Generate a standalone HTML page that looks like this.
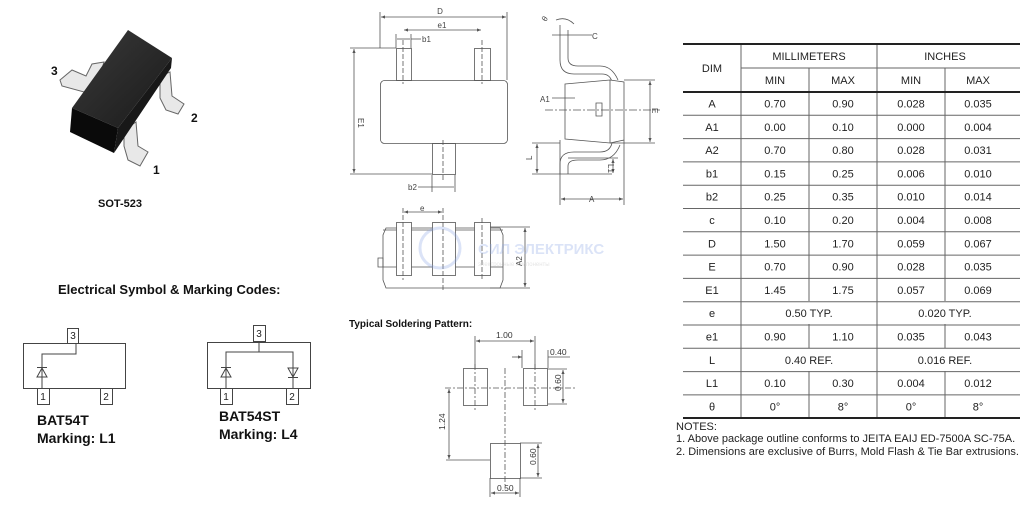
<!DOCTYPE html>
<html><head><meta charset="utf-8"><style>
html,body{margin:0;padding:0;background:#fff;}
svg{display:block;font-family:"Liberation Sans",Arial,sans-serif;}
</style></head><body>
<svg width="1024" height="506" viewBox="0 0 1024 506" xmlns="http://www.w3.org/2000/svg">
<defs>
<linearGradient id="bd" x1="0" y1="0" x2="1" y2="1"><stop offset="0" stop-color="#3a3a3a"/><stop offset="1" stop-color="#1a1a1a"/></linearGradient>
<marker id="ar" markerWidth="6" markerHeight="6" refX="5" refY="3" orient="auto"><path d="M0,1 L5,3 L0,5z" fill="#555"/></marker>
<marker id="al" markerWidth="6" markerHeight="6" refX="1" refY="3" orient="auto"><path d="M6,1 L1,3 L6,5z" fill="#555"/></marker>
</defs>
<!-- 3D package leads -->
<g stroke="#666" stroke-width="1" fill="#e8e8e8">
<path d="M60,80 L72,70 L86,76 L92,64 L104,62 L98,82 L84,92 L62,86z"/>
<path d="M160,76 L170,72 L172,96 L184,104 L178,114 L166,110 L160,98z"/>
<path d="M124,130 L136,122 L138,146 L148,152 L140,166 L128,160 L124,146z"/>
</g>
<path d="M128,30 L172,58 L118,128 L72,108z" fill="url(#bd)"/>
<path d="M172,58 L171,68 L114,153 L118,128z" fill="#181818"/>
<path d="M72,108 L118,128 L114,153 L70,132z" fill="#0a0a0a"/>
<g font-weight="bold" font-size="12" fill="#111">
<text x="51" y="75">3</text><text x="191" y="122">2</text><text x="153" y="174">1</text>
<text x="98" y="207" font-size="11">SOT-523</text>
</g>
<!-- Electrical symbols -->
<text x="58" y="294" font-weight="bold" font-size="13" fill="#111">Electrical Symbol &amp; Marking Codes:</text>
<g stroke="#444" stroke-width="1" fill="#fff">
<rect x="23.5" y="343.5" width="102" height="45"/>
<rect x="67.5" y="328.5" width="11" height="15"/>
<rect x="37.5" y="388.5" width="12" height="16"/>
<rect x="100.5" y="388.5" width="12" height="16"/>
<polyline points="76,343 76,354 42,354 42,388" fill="none"/>
<path d="M37,377 L47,377 L42,368z M37,367.5 L47,367.5" fill="none"/>
<rect x="207.5" y="342.5" width="103" height="46"/>
<rect x="253.5" y="325.5" width="12" height="16"/>
<rect x="220.5" y="388.5" width="12" height="16"/>
<rect x="286.5" y="388.5" width="12" height="16"/>
<polyline points="259,342 259,352 226,352 226,388" fill="none"/>
<polyline points="259,352 293,352 293,388" fill="none"/>
<path d="M221,377 L231,377 L226,368z M221,367.5 L231,367.5" fill="none"/>
<path d="M288,368 L298,368 L293,377z M288,377.5 L298,377.5" fill="none"/>
</g>
<g font-size="10" fill="#222" text-anchor="middle">
<text x="73" y="339">3</text><text x="43" y="400">1</text><text x="106" y="400">2</text>
<text x="259" y="337">3</text><text x="226" y="400">1</text><text x="292" y="400">2</text>
</g>
<g font-weight="bold" font-size="14" fill="#111">
<text x="37" y="425">BAT54T</text><text x="37" y="443">Marking: L1</text>
<text x="219" y="421">BAT54ST</text><text x="219" y="439">Marking: L4</text>
</g>
<!-- Top view drawing -->
<g stroke="#555" stroke-width="0.8" fill="none">
<rect x="380.5" y="80.5" width="127" height="63" rx="4" fill="#fff"/>
<rect x="396.5" y="48.5" width="15" height="32"/>
<rect x="474.5" y="48.5" width="16" height="32"/>
<rect x="432.5" y="143.5" width="23" height="31"/>
<path d="M403,40 V84 M482,40 V84 M443,140 V180" stroke-dasharray="5,2"/>
<path d="M380,12 V48 M507,12 V80 M396,34 V48 M411,34 V48 M432,175 V192 M455,175 V192"/>
<path d="M350,48 H396 M350,174 H432"/>
<line x1="381" y1="17" x2="506" y2="17" marker-start="url(#al)" marker-end="url(#ar)"/>
<line x1="404" y1="30" x2="481" y2="30" marker-start="url(#al)" marker-end="url(#ar)"/>
<line x1="397" y1="39" x2="410" y2="39"/><line x1="411" y1="39" x2="421" y2="39"/>
<line x1="354" y1="49" x2="354" y2="173" marker-start="url(#al)" marker-end="url(#ar)"/>
<line x1="418" y1="187" x2="454" y2="187"/>
</g>
<g font-size="8" fill="#444">
<text x="440" y="14" text-anchor="middle">D</text><text x="442" y="28" text-anchor="middle">e1</text>
<text x="422" y="42">b1</text><text x="408" y="190">b2</text>
<text x="358" y="118" transform="rotate(90 358 118)">E1</text>
</g>
<!-- Side view -->
<g stroke="#555" stroke-width="0.8" fill="none">
<path d="M560,48 V60 Q560,74 574,74 H602 Q610,74 612,82"/>
<path d="M568,48 V58 Q568,66 578,66 H600 Q612,66 618,80"/>
<path d="M565,84 L610,80 L624,82 L624,140 L610,143 L565,139z" fill="#fff"/>
<path d="M610,80 V143"/>
<path d="M612,143 Q610,152 600,152 H574 Q560,152 560,164 V174"/>
<path d="M620,145 Q614,160 600,160 H578 Q568,160 568,166 V174"/>
<path d="M596,103 h6 v13 h-6z"/>
<path d="M545,110 H660" stroke-dasharray="8,2,2,2"/>
<path d="M624,80 H655 M610,143 H655 M532,143 H560 M532,174 H612 M568,158 H618 M560,140 V205 M624,140 V205 M560,25 V48 M568,30 V48"/>
<line x1="650" y1="81" x2="650" y2="142" marker-start="url(#al)" marker-end="url(#ar)"/>
<line x1="537" y1="144" x2="537" y2="173" marker-start="url(#al)" marker-end="url(#ar)"/>
<line x1="613" y1="159" x2="613" y2="173" marker-start="url(#al)" marker-end="url(#ar)"/>
<line x1="561" y1="199" x2="623" y2="199" marker-start="url(#al)" marker-end="url(#ar)"/>
<path d="M552,35 H592 M552,98 H575"/>
<path d="M556,20 Q566,16 574,24"/>
</g>
<g font-size="8" fill="#444">
<text x="592" y="39">C</text><text x="540" y="102">A1</text><text x="589" y="202">A</text>
<text x="546" y="22" transform="rotate(-60 546 22)">θ</text>
<text x="652" y="108" transform="rotate(90 652 108)">E</text>
<text x="532" y="160" transform="rotate(-90 532 160)">L</text>
<text x="608" y="164" transform="rotate(90 608 164)">L1</text>
</g>
<!-- Bottom view -->
<g stroke="#555" stroke-width="0.8" fill="none">
<path d="M386,228 H500 L503,235 V280 L500,288 H386 L383,280 V235z" fill="#fff"/>
<path d="M383,230 H503 M383,267 H503"/>
<path d="M378,258 h5 v9 h-5z"/>
<rect x="396.5" y="222.5" width="15" height="53" fill="#fff"/>
<rect x="432.5" y="222.5" width="23" height="53" fill="#fff"/>
<rect x="474.5" y="222.5" width="16" height="53" fill="#fff"/>
<path d="M403,208 V280 M443,208 V290 M482,218 V280" stroke-dasharray="5,2"/>
<path d="M490,227 H530 M490,288 H530"/>
<line x1="404" y1="212" x2="442" y2="212" marker-start="url(#al)" marker-end="url(#ar)"/>
<line x1="525" y1="228" x2="525" y2="287" marker-start="url(#al)" marker-end="url(#ar)"/>
</g>
<g font-size="8" fill="#444"><text x="420" y="211">e</text><text x="520" y="252" transform="rotate(-90 528 258)">A2</text></g>
<!-- watermark -->
<g opacity="0.3" fill="#8aa6e6" stroke="#8aa6e6">
<circle cx="440" cy="248" r="20" fill="none" stroke-width="3"/>
<text x="478" y="254" font-size="15" font-weight="bold" stroke="none">СИЛ ЭЛЕКТРИКС</text>
<text x="478" y="266" font-size="6" stroke="none" fill="#aaa">электронные компоненты</text>
</g>
<!-- Soldering pattern -->
<text x="349" y="327" font-weight="bold" font-size="10" fill="#111">Typical Soldering Pattern:</text>
<g stroke="#555" stroke-width="0.8" fill="none">
<rect x="463.5" y="368.5" width="24" height="37"/>
<rect x="523.5" y="368.5" width="24" height="37"/>
<rect x="490.5" y="443.5" width="30" height="35"/>
<path d="M445,388 H575 M505,368 V485 M475,364 V410 M535,364 V410" stroke-dasharray="6,2,2,2"/>
<path d="M475,336 V368 M535,336 V368 M522,350 V368 M548,350 V368 M548,369 H567 M548,404 H567 M446,460 H490 M520,443 H542 M520,478 H542 M490,478 V497 M520,478 V497 M548,357 H570"/>
<line x1="476" y1="341" x2="534" y2="341" marker-start="url(#al)" marker-end="url(#ar)"/>
<line x1="512" y1="357" x2="522" y2="357" marker-end="url(#ar)"/>
<line x1="563" y1="370" x2="563" y2="403" marker-start="url(#al)" marker-end="url(#ar)"/>
<line x1="449" y1="389" x2="449" y2="459" marker-start="url(#al)" marker-end="url(#ar)"/>
<line x1="538" y1="444" x2="538" y2="477" marker-start="url(#al)" marker-end="url(#ar)"/>
<line x1="491" y1="493" x2="519" y2="493" marker-start="url(#al)" marker-end="url(#ar)"/>
</g>
<g font-size="8.5" fill="#333">
<text x="496" y="338">1.00</text><text x="550" y="355">0.40</text><text x="497" y="491">0.50</text>
<text x="561" y="391" transform="rotate(-90 561 391)">0.60</text>
<text x="445" y="430" transform="rotate(-90 445 430)">1.24</text>
<text x="536" y="465" transform="rotate(-90 536 465)">0.60</text>
</g>
<!-- Table -->
<g stroke="#666" stroke-width="1">
<line x1="741" y1="68" x2="1020" y2="68"/>
<line x1="741" y1="44" x2="741" y2="418"/>
<line x1="877" y1="44" x2="877" y2="418"/>
<line x1="809" y1="68" x2="809" y2="301"/><line x1="945" y1="68" x2="945" y2="301"/>
<line x1="809" y1="324" x2="809" y2="348"/><line x1="945" y1="324" x2="945" y2="348"/>
<line x1="809" y1="371" x2="809" y2="418"/><line x1="945" y1="371" x2="945" y2="418"/>
<line x1="683" y1="115.3" x2="1020" y2="115.3"/><line x1="683" y1="138.6" x2="1020" y2="138.6"/>
<line x1="683" y1="161.9" x2="1020" y2="161.9"/><line x1="683" y1="185.2" x2="1020" y2="185.2"/>
<line x1="683" y1="208.5" x2="1020" y2="208.5"/><line x1="683" y1="231.8" x2="1020" y2="231.8"/>
<line x1="683" y1="255.1" x2="1020" y2="255.1"/><line x1="683" y1="278.4" x2="1020" y2="278.4"/>
<line x1="683" y1="301.7" x2="1020" y2="301.7"/><line x1="683" y1="325" x2="1020" y2="325"/>
<line x1="683" y1="348.3" x2="1020" y2="348.3"/><line x1="683" y1="371.6" x2="1020" y2="371.6"/>
<line x1="683" y1="394.9" x2="1020" y2="394.9"/>
</g>
<g stroke="#222" stroke-width="2"><line x1="683" y1="44" x2="1020" y2="44"/><line x1="683" y1="92" x2="1020" y2="92"/><line x1="683" y1="418" x2="1020" y2="418"/></g>
<g font-size="11" fill="#222" text-anchor="middle">
<text x="712" y="72">DIM</text><text x="809" y="60">MILLIMETERS</text><text x="945" y="60">INCHES</text>
<text x="775" y="84">MIN</text><text x="843" y="84">MAX</text><text x="911" y="84">MIN</text><text x="978" y="84">MAX</text>
<text x="712" y="107.5">A</text><text x="775" y="107.5">0.70</text><text x="843" y="107.5">0.90</text><text x="911" y="107.5">0.028</text><text x="978" y="107.5">0.035</text>
<text x="712" y="130.8">A1</text><text x="775" y="130.8">0.00</text><text x="843" y="130.8">0.10</text><text x="911" y="130.8">0.000</text><text x="978" y="130.8">0.004</text>
<text x="712" y="154.1">A2</text><text x="775" y="154.1">0.70</text><text x="843" y="154.1">0.80</text><text x="911" y="154.1">0.028</text><text x="978" y="154.1">0.031</text>
<text x="712" y="177.4">b1</text><text x="775" y="177.4">0.15</text><text x="843" y="177.4">0.25</text><text x="911" y="177.4">0.006</text><text x="978" y="177.4">0.010</text>
<text x="712" y="200.7">b2</text><text x="775" y="200.7">0.25</text><text x="843" y="200.7">0.35</text><text x="911" y="200.7">0.010</text><text x="978" y="200.7">0.014</text>
<text x="712" y="224">c</text><text x="775" y="224">0.10</text><text x="843" y="224">0.20</text><text x="911" y="224">0.004</text><text x="978" y="224">0.008</text>
<text x="712" y="247.3">D</text><text x="775" y="247.3">1.50</text><text x="843" y="247.3">1.70</text><text x="911" y="247.3">0.059</text><text x="978" y="247.3">0.067</text>
<text x="712" y="270.6">E</text><text x="775" y="270.6">0.70</text><text x="843" y="270.6">0.90</text><text x="911" y="270.6">0.028</text><text x="978" y="270.6">0.035</text>
<text x="712" y="293.9">E1</text><text x="775" y="293.9">1.45</text><text x="843" y="293.9">1.75</text><text x="911" y="293.9">0.057</text><text x="978" y="293.9">0.069</text>
<text x="712" y="317.2">e</text><text x="809" y="317.2">0.50 TYP.</text><text x="945" y="317.2">0.020 TYP.</text>
<text x="712" y="340.5">e1</text><text x="775" y="340.5">0.90</text><text x="843" y="340.5">1.10</text><text x="911" y="340.5">0.035</text><text x="978" y="340.5">0.043</text>
<text x="712" y="363.8">L</text><text x="809" y="363.8">0.40 REF.</text><text x="945" y="363.8">0.016 REF.</text>
<text x="712" y="387.1">L1</text><text x="775" y="387.1">0.10</text><text x="843" y="387.1">0.30</text><text x="911" y="387.1">0.004</text><text x="978" y="387.1">0.012</text>
<text x="712" y="410.4">θ</text><text x="775" y="410.4">0°</text><text x="843" y="410.4">8°</text><text x="911" y="410.4">0°</text><text x="978" y="410.4">8°</text>
</g>
<g font-size="11" fill="#222">
<text x="676" y="430">NOTES:</text>
<text x="676" y="442">1. Above package outline conforms to JEITA EAIJ ED-7500A SC-75A.</text>
<text x="676" y="455">2. Dimensions are exclusive of Burrs, Mold Flash &amp; Tie Bar extrusions.</text>
</g>
</svg>
</body></html>
